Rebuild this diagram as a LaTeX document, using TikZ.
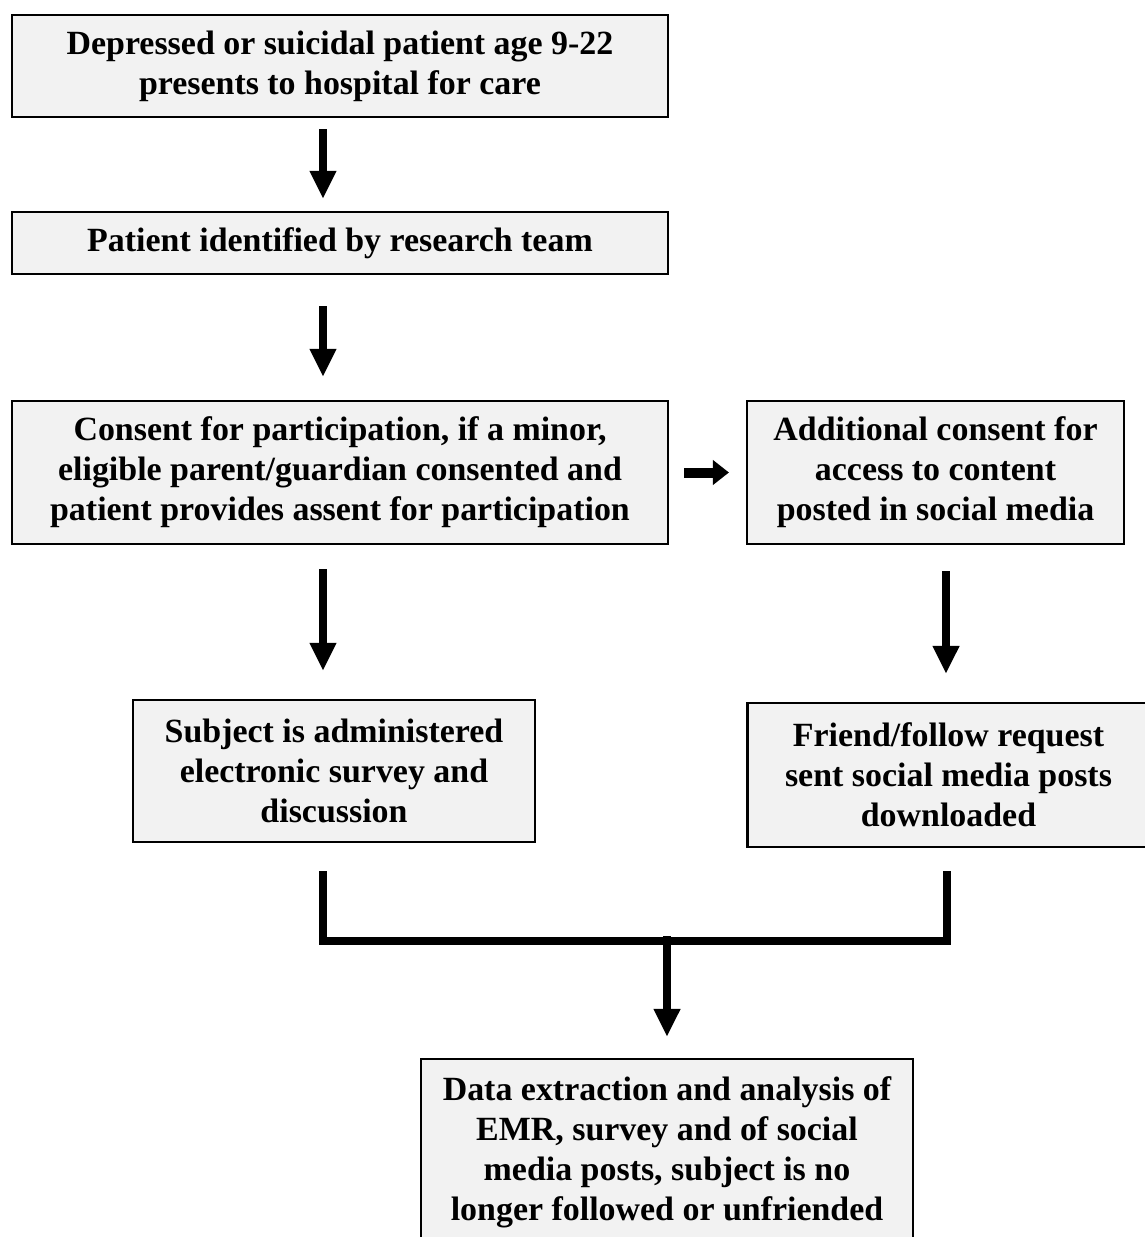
\documentclass[tikz,border=0pt]{standalone}
\usepackage{fontspec}
\setmainfont{Liberation Serif}
\usetikzlibrary{arrows.meta}
\definecolor{boxgray}{RGB}{242,242,242}

\begin{document}
\begin{tikzpicture}[
        box/.style={rectangle, draw, line width=1.2pt, fill=boxgray, align=center,
            font=\bfseries\fontsize{19.3}{22.8}\selectfont, inner sep=0pt},
        arrow/.style={-{Triangle[width=0.5cm, length=0.56cm]}, line width=4.5pt},
        link/.style={line width=4.5pt}]

        \useasboundingbox (0,0) rectangle (22.9,-24.74);
        \clip (0,0) rectangle (22.9,-24.74);

        \node[box, minimum width=13.12cm, minimum height=2.04cm] (presents) at (6.8,-1.32)
            {Depressed or suicidal patient age 9-22\\presents to hospital for care};
        \node[box, minimum width=13.12cm, minimum height=1.24cm] (identified) at (6.8,-4.86)
            {Patient identified by research team};
        \node[box, minimum width=13.12cm, minimum height=2.86cm] (consent) at (6.8,-9.45)
            {Consent for participation, if a minor,\\eligible parent/guardian consented and\\patient provides assent for participation};
        \node[box, minimum width=7.54cm, minimum height=2.86cm] (extra) at (18.71,-9.45)
            {Additional consent for\\access to content\\posted in social media};
        \node[box, minimum width=8.04cm, minimum height=2.84cm] (survey) at (6.68,-15.42)
            {Subject is administered\\electronic survey and\\discussion};
        \node[box, minimum width=8.04cm, minimum height=2.88cm] (friend) at (18.97,-15.5)
            {Friend/follow request\\sent social media posts\\downloaded};
        \node[box, minimum width=9.84cm, minimum height=3.72cm] (analysis) at (13.34,-23.04)
            {Data extraction and analysis of\\EMR, survey and of social\\media posts, subject is no\\longer followed or unfriended};

        \draw[arrow, shorten <=0.22cm, shorten >=0.24cm] ([xshift=-3.4mm]presents.south) -- ([xshift=-3.4mm]identified.north);
        \draw[arrow, shorten <=0.62cm, shorten >=0.46cm] ([xshift=-3.4mm]identified.south) -- ([xshift=-3.4mm]identified.south |- consent.north);
        \draw[-{Triangle[width=0.48cm, length=0.32cm]}, line width=0.2cm, shorten <=0.3cm, shorten >=0.34cm] (consent.east) -- (extra.west);
        \draw[arrow, shorten <=0.48cm, shorten >=0.56cm] ([xshift=-3.4mm]consent.south) -- ([xshift=-3.4mm]consent.south |- survey.north);
        \draw[arrow, shorten <=0.52cm, shorten >=0.56cm] ([xshift=2.1mm]extra.south) -- ([xshift=2.1mm]extra.south |- friend.north);

        % join the two branches
        \draw[link] ([xshift=-2.2mm, yshift=-5.6mm]survey.south) -- ++(0,-1.4) -| ([xshift=-0.3mm, yshift=-4.6mm]friend.south);
        \coordinate (merge) at (13.34,-18.8);
        \draw[arrow, shorten <=-2pt, shorten >=0.42cm] (merge) -- (analysis.north);
    \end{tikzpicture}
\end{document}
